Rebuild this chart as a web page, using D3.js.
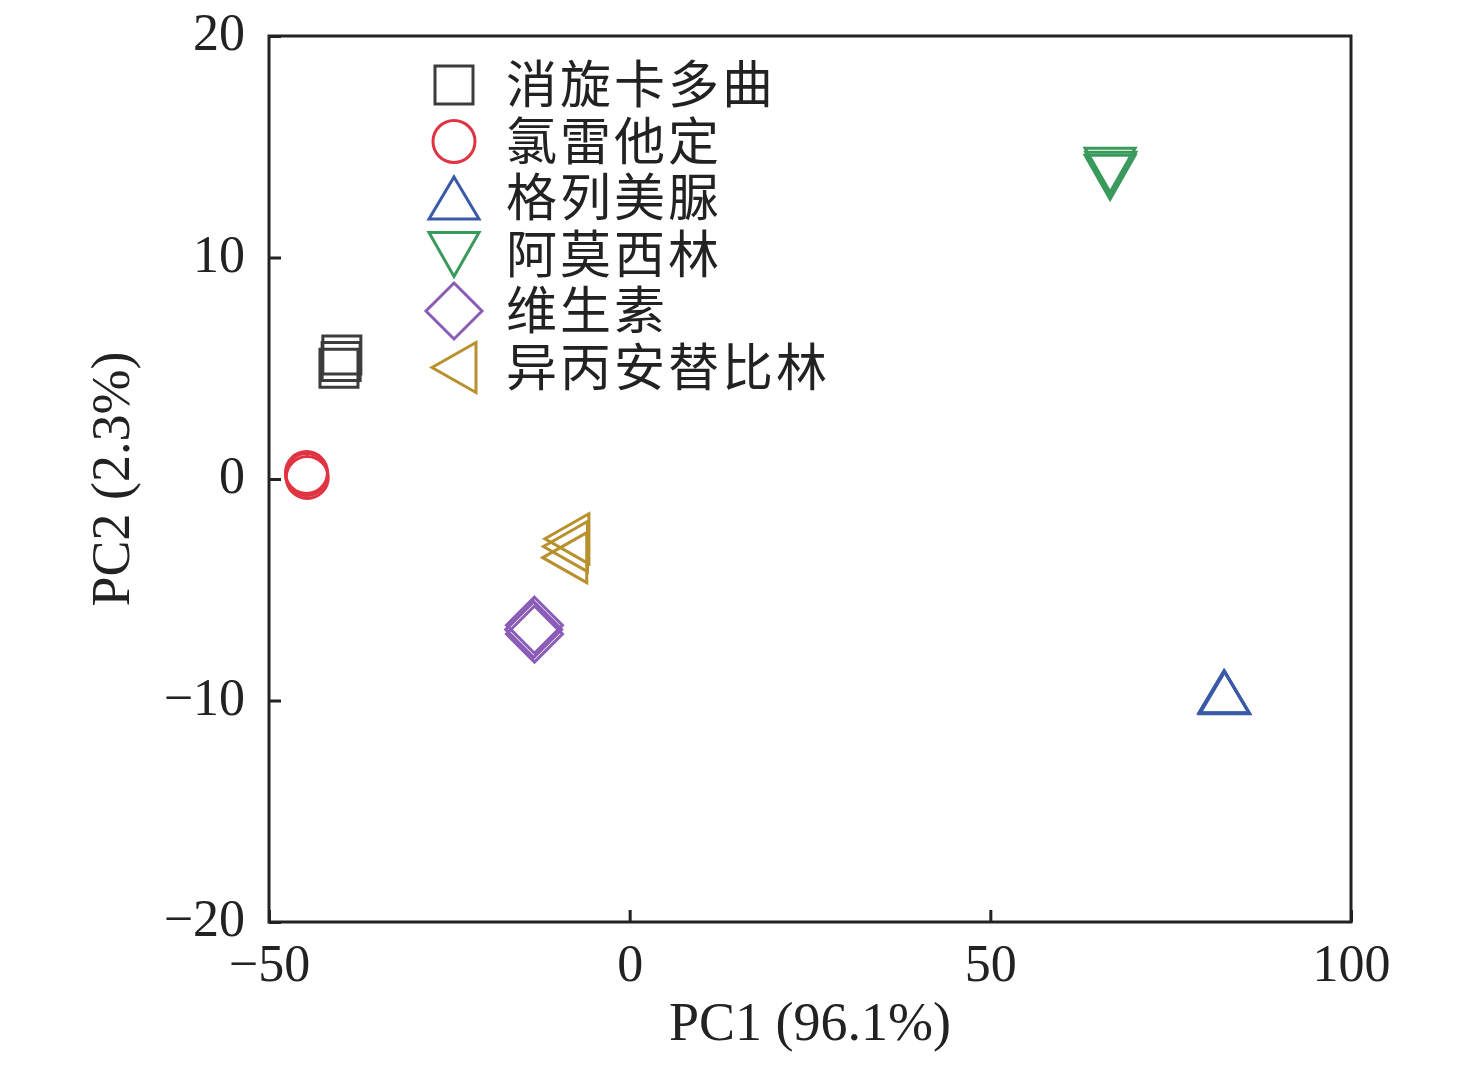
<!DOCTYPE html>
<html>
<head>
<meta charset="utf-8">
<script src="https://cdn.jsdelivr.net/npm/d3@7"></script>
<style>
  body { margin: 0; background: #fff; }
  svg { display: block; }
</style>
</head>
<body>
<div id="chart"></div>
<script>
// groups and their replicate PCA scores
var groups = ["消旋卡多曲", "氯雷他定", "格列美脲", "阿莫西林", "维生素", "异丙安替比林"];
var shapes = ["square", "circle", "triUp", "triDown", "diamond", "triLeft"];
var colors = ["#3c3c3c", "#e03442", "#3a5aa8", "#3a9a5c", "#8a5cb8", "#b8902c"];

var pc1 = [
    [-39.9, -40.3, -40.0],
    [-44.8, -44.8, -44.7],
    [82.4, 82.5, 82.4],
    [66.6, 66.7, 66.6],
    [-13.2, -13.3, -13.2],
    [-8.7, -8.9, -9.0]
];
var pc2 = [
    [5.6, 5.0, 5.3],
    [0.29, 0.2, 0.07],
    [-9.6, -9.65, -9.62],
    [13.94, 13.76, 13.62],
    [-6.6, -6.8, -7.0],
    [-2.7, -3.05, -3.55]
];

var xTicks = [-50, 0, 50, 100];
var yTicks = [-20, -10, 0, 10, 20];

var margin = {top: 36, right: 125, bottom: 145, left: 269},
    width = 1476 - margin.left - margin.right,
    height = 1067 - margin.top - margin.bottom;

var numFont = "'Liberation Serif', 'DejaVu Serif', serif";
var cjkFont = "'Noto Sans CJK SC', 'Noto Sans', sans-serif";

var svg = d3.select("#chart").append("svg")
    .attr("width", 1476)
    .attr("height", 1067)
    .append("g")
    .attr("transform", "translate(" + margin.left + "," + margin.top + ")");

var x = d3.scaleLinear().domain([-50, 100]).range([0, width]);
var y = d3.scaleLinear().domain([-20, 20]).range([height, 0]);

function fmt(d) { return d < 0 ? "\u2212" + Math.abs(d) : String(d); }

// marker outline paths centred on (0,0)
function markerPath(shape) {
    var p = d3.path();
    if (shape === "square") {
        p.rect(-19, -19, 38, 38);
    } else if (shape === "circle") {
        p.arc(0, 0, 21, 0, 2 * Math.PI);
        p.closePath();
    } else if (shape === "triUp") {
        p.moveTo(0, -21); p.lineTo(25, 21); p.lineTo(-25, 21); p.closePath();
    } else if (shape === "triDown") {
        p.moveTo(-25, -22); p.lineTo(25, -22); p.lineTo(0, 22); p.closePath();
    } else if (shape === "diamond") {
        p.moveTo(0, -28); p.lineTo(28, 0); p.lineTo(0, 28); p.lineTo(-28, 0); p.closePath();
    } else if (shape === "triLeft") {
        p.moveTo(-22, 0); p.lineTo(22, -25); p.lineTo(22, 25); p.closePath();
    }
    return p.toString();
}

// frame
svg.append("rect")
    .attr("x", 0).attr("y", 0)
    .attr("width", width).attr("height", height)
    .attr("fill", "none")
    .attr("stroke", "#222")
    .attr("stroke-width", 3);

// axes (ticks inward)
var xAxis = svg.append("g")
    .attr("transform", "translate(0," + height + ")")
    .call(d3.axisBottom(x).tickValues(xTicks).tickSize(-12).tickPadding(22).tickFormat(fmt));
var yAxis = svg.append("g")
    .call(d3.axisLeft(y).tickValues(yTicks).tickSize(-12).tickPadding(24).tickFormat(fmt));

[xAxis, yAxis].forEach(function(a) {
    a.select(".domain").remove();
    a.selectAll(".tick line").attr("stroke", "#222").attr("stroke-width", 3);
    a.selectAll(".tick text")
        .attr("fill", "#222")
        .style("font-family", numFont)
        .style("font-size", "52px");
});
xAxis.selectAll(".tick text").attr("dy", "0.72em");
yAxis.selectAll(".tick text").attr("dy", "0.26em");

// axis titles
svg.append("text")
    .attr("x", x(25))
    .attr("y", 1040 - margin.top)
    .attr("text-anchor", "middle")
    .attr("fill", "#222")
    .style("font-family", numFont)
    .style("font-size", "54px")
    .text("PC1 (96.1%)");

svg.append("text")
    .attr("transform", "translate(" + (129 - margin.left) + "," + y(0) + ") rotate(-90)")
    .attr("text-anchor", "middle")
    .attr("fill", "#222")
    .style("font-family", numFont)
    .style("font-size", "54px")
    .text("PC2 (2.3%)");

// points
groups.forEach(function(g, i) {
    var pts = pc1[i].map(function(v, j) { return [v, pc2[i][j]]; });
    svg.append("g").selectAll("path")
        .data(pts)
        .enter().append("path")
        .attr("transform", function(d) { return "translate(" + x(d[0]) + "," + y(d[1]) + ")"; })
        .attr("d", markerPath(shapes[i]))
        .attr("fill", "none")
        .attr("stroke", colors[i])
        .attr("stroke-width", 3);
});

// legend
var legend = svg.append("g")
    .attr("transform", "translate(" + (454 - margin.left) + "," + (85 - margin.top) + ")");

groups.forEach(function(g, i) {
    var row = legend.append("g").attr("transform", "translate(0," + (i * 56.5) + ")");
    row.append("path")
        .attr("d", markerPath(shapes[i]))
        .attr("fill", "none")
        .attr("stroke", colors[i])
        .attr("stroke-width", 3);
    row.append("text")
        .attr("x", 52)
        .attr("y", 0)
        .attr("dy", "0.36em")
        .attr("fill", "#222")
        .style("font-family", cjkFont)
        .style("font-size", "51px")
        .style("letter-spacing", "3px")
        .text(g);
});
</script>
</body>
</html>
